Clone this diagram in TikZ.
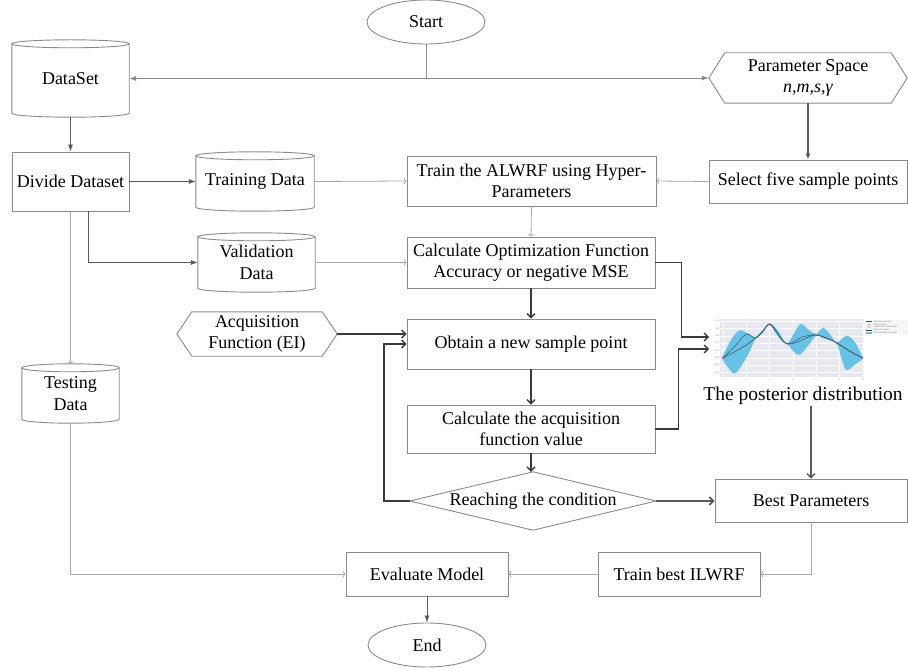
\documentclass[tikz,border=0pt]{standalone}
\usepackage{fontspec}
\setmainfont{Liberation Serif}
\usetikzlibrary{shapes.geometric,arrows.meta,calc}

\definecolor{boxgray}{HTML}{8A8A8A}
\definecolor{lightline}{HTML}{A8A8A8}
\definecolor{midline}{HTML}{5A5A5A}
\definecolor{darkline}{HTML}{3A3A3A}
\definecolor{plotbg}{HTML}{E8E8F1}
\definecolor{bandblue}{RGB}{104,194,230}
\definecolor{curvenavy}{HTML}{2E4F6E}
\definecolor{obsred}{HTML}{D9373B}

\newcommand\mainsize{\fontsize{18}{21.5}\selectfont}
\newcommand\tinysize{\fontsize{2.4}{2.8}\selectfont}

% cylinder outline drawn round a rectangle node
\newcommand\dbdrum[1]{%
  \draw[boxline] let \p1=(#1.north west), \p2=(#1.south east), \n1={(\x2-\x1)/2} in
    ({(\x1+\x2)/2},{\y1-4pt}) ellipse [x radius=\n1, y radius=4pt]
    (\x1,{\y1-4pt}) -- (\x1,{\y2+4pt})
    arc [start angle=180, end angle=360, x radius=\n1, y radius=4pt]
    -- (\x2,{\y1-4pt});}
% hexagon outline drawn round a rectangle node
\newcommand\hexoutline[2]{%
  \draw[boxline] (#1.west) -- ($(#1.north west)+(#2,0)$) -- ($(#1.north east)+(-#2,0)$)
    -- (#1.east) -- ($(#1.south east)+(-#2,0)$) -- ($(#1.south west)+(#2,0)$) -- cycle;}
% diamond outline drawn round a rectangle node
\newcommand\diamondoutline[1]{%
  \draw[boxline] (#1.west) -- (#1.north) -- (#1.east) -- (#1.south) -- cycle;}

\begin{document}
\begin{tikzpicture}[x=1pt,y=-1pt,
  boxline/.style={draw=boxgray, line width=0.9pt},
  box/.style={rectangle, draw=boxgray, line width=0.9pt, inner sep=0pt, align=center, font=\mainsize},
  bare/.style={rectangle, draw=none, inner sep=0pt, align=center, font=\mainsize},
  oval/.style={ellipse, draw=boxgray, line width=0.9pt, inner sep=0pt, minimum width=118, minimum height=44, font=\mainsize},
  thinarrow/.style={draw=lightline, line width=0.8pt, -{To[length=2.5pt,width=6pt]}},
  solidarrow/.style={draw=midline, line width=0.8pt, -{Latex[length=7pt,width=5pt]}},
  heavyarrow/.style={draw=midline, line width=1.5pt, -{Latex[length=6pt,width=5pt]}},
  darkarrow/.style={draw=darkline, line width=1.4pt, -{Straight Barb[length=4pt,width=8pt]}},
  ticklab/.style={font=\tinysize, text=black!55, inner sep=0.3pt},
]
\useasboundingbox (0,0) rectangle (908,671);

% ---------- nodes ----------
\node[oval] (start) at (426,22) {Start};
\node[bare, minimum width=117, minimum height=77] (dataset) at (70.5,78.5) {DataSet};
\node[bare, minimum width=198, minimum height=50] (param) at (808,78) {Parameter Space\\\textit{n,m,s,γ}};

\node[box, minimum width=117, minimum height=59] (divide) at (70.5,181.5) {Divide Dataset};
\node[bare, minimum width=118, minimum height=59] (training) at (255,181.5) {Training Data};
\node[box, minimum width=249, minimum height=50] (train) at (531.5,181) {Train the ALWRF using Hyper-\\Parameters};
\node[box, minimum width=198, minimum height=43] (select) at (808,181.5) {Select five sample points};

\node[bare, minimum width=117, minimum height=59] (validation) at (256.5,262.5) {Validation\\Data};
\node[box, minimum width=248, minimum height=51] (calcopt) at (531,262.5) {Calculate Optimization Function\\Accuracy or negative MSE};

\node[bare, minimum width=160, minimum height=44] (acq) at (257,334) {Acquisition\\Function (EI)};
\node[box, minimum width=248, minimum height=50] (obtain) at (531,344) {Obtain a new sample point};

\node[bare, minimum width=97, minimum height=59] (testing) at (70.5,393.5) {Testing\\Data};
\node[box, minimum width=248, minimum height=48] (calcacq) at (531,429) {Calculate the acquisition\\function value};

\node[bare, minimum width=246, minimum height=58] (cond) at (533,501) {Reaching the condition};
\node[box, minimum width=192, minimum height=43] (best) at (811,500.5) {Best Parameters};

\node[box, minimum width=162, minimum height=44] (evaluate) at (427,574) {Evaluate Model};
\node[box, minimum width=162, minimum height=44] (trainbest) at (679,574) {Train best ILWRF};
\node[oval] (end) at (427,645) {End};

% outlines of the cylinders, hexagons and the decision
\dbdrum{dataset}
\dbdrum{training}
\dbdrum{validation}
\dbdrum{testing}
\hexoutline{param}{16}
\hexoutline{acq}{15}
\diamondoutline{cond}

% ---------- posterior distribution plot ----------
\begin{scope}[shift={(746,365)}, x=11.67pt, y=29.2pt]
  \fill[plotbg] (-2.2,-0.42) rectangle (10,1.57);
  \foreach \v in {-0.25,0,0.25,0.5,0.75,1,1.25,1.5}
    \draw[white, line width=0.3pt] (-2.2,\v) -- (10,\v);
  \foreach \u in {-2,0,2,4,6,8,10}
    \draw[white, line width=0.3pt] (\u,-0.42) -- (\u,1.57);
  \fill[bandblue]
    plot[smooth, tension=0.6] coordinates {(-2,0.3) (-1.3,0.85) (-0.6,1.18) (0.1,1.1) (0.8,0.96) (1.4,1.2) (2,1.43) (2.7,1.2) (3.2,0.88) (3.6,0.75) (4.2,1.15) (4.7,1.4) (5.4,1.2) (6,1.06) (6.6,1.27) (7.2,1.05) (7.8,0.78) (8.6,1.0) (9.3,0.8) (10,0.27)}
    -- plot[smooth, tension=0.6] coordinates {(10,0.21) (9.3,0.0) (8.6,-0.17) (8.2,0.2) (7.8,0.72) (7.2,0.85) (6.6,0.92) (6,1.0) (5.3,0.65) (4.6,0.35) (4.1,0.45) (3.6,0.69) (3.2,0.78) (2.6,1.05) (2,1.37) (1.4,1.1) (0.8,0.88) (0.1,0.3) (-0.9,-0.28) (-1.5,-0.1) (-2,0.18)}
    -- cycle;
  \draw[curvenavy, line width=0.45pt] plot[smooth, tension=0.6] coordinates {(-2,0.24) (-1,0.62) (0,1.05) (0.8,0.92) (1.4,1.12) (2,1.4) (2.6,1.15) (3.1,0.85) (3.6,0.72) (4.3,0.85) (5,0.98) (6,1.03) (6.9,0.92) (7.8,0.75) (9,0.45) (10,0.24)};
  \draw[black!75, line width=0.45pt] plot[smooth, tension=0.6] coordinates {(-2,0.24) (-1,0.45) (0,0.68) (0.8,0.92) (1.4,1.12) (2,1.4) (2.6,1.15) (3.1,0.85) (3.6,0.72) (4.5,0.8) (5.3,0.95) (6,1.03) (6.9,0.92) (7.8,0.75) (9,0.45) (10,0.24)};
  \foreach \p in {(-2,0.24),(0.8,0.92),(2,1.4),(3.6,0.72),(6,1.03),(7.8,0.75),(10,0.24)}
    \fill[obsred] \p circle [radius=0.7pt];
  \foreach \v/\t in {1.5/1.50,1.25/1.25,1/1.00,0.75/0.75,0.5/0.50,0.25/0.25,0/0.00,-0.25/-0.25}
    \node[ticklab, anchor=east] at (-2.25,\v) {\t};
  \foreach \u in {-2,0,2,4,6,8,10}
    \node[ticklab, anchor=north] at (\u,-0.45) {\u};
\end{scope}
% legend of the plot
\fill[white!60!plotbg] (864.5,319.5) rectangle (907.5,334.5);
\draw[curvenavy, line width=0.4pt] (866,321.5) -- (872,321.5);
\fill[obsred] (869,324.3) circle [radius=0.6pt];
\fill[blue!70!black] (869,327.1) circle [radius=0.6pt];
\draw[black!75, line width=0.4pt] (866,329.9) -- (872,329.9);
\fill[bandblue] (866,331.7) rectangle (872,333.7);
\node[ticklab, anchor=west] at (873,321.5) {Objective function};
\node[ticklab, anchor=west] at (873,324.3) {Observations};
\node[ticklab, anchor=west] at (873,327.1) {Current best observation};
\node[ticklab, anchor=west] at (873,329.9) {Predictive mean};
\node[ticklab, anchor=west] at (873,332.7) {95\% confidence interval};

\node[font=\fontsize{19.5}{22}\selectfont, inner sep=1pt] (posttext) at (803,396) {The posterior distribution};
\coordinate (pin1) at (709,337);
\coordinate (pin2) at (709,349);

% ---------- connectors ----------
\draw[solidarrow, draw=boxgray] (start.south) |- (dataset.east);
\draw[solidarrow, draw=boxgray] (start.south) |- (param.west);
\draw[solidarrow] (dataset.south) -- (divide.north);
\draw[solidarrow] (divide.east) -- (training.west);
\draw[thinarrow] (training.east) -- (train.west);
\draw[heavyarrow] (param.south) -- (select.north);
\draw[thinarrow] (select.west) -- (train.east);
\draw[thinarrow] (train.south) -- (calcopt.north);
\draw[solidarrow] ($(divide.south)+(17.5,0)$) |- (validation.west);
\draw[thinarrow] (validation.east) -- (calcopt.west);
\draw[thinarrow] (divide.south) -- (testing.north);

\draw[darkarrow] (calcopt.south) -- (obtain.north);
\draw[darkarrow] (obtain.south) -- (calcacq.north);
\draw[darkarrow] (calcacq.south) -- (calcacq.south |- cond.north);
\draw[darkarrow] (acq.east) -- (acq.east -| obtain.west);
\draw[darkarrow] (cond.west) -- ++(-26,0) |- (obtain.west);
\draw[darkarrow] (calcopt.east) -- ++(26,0) |- (pin1);
\draw[darkarrow] (calcacq.east) -- ++(23,0) |- (pin2);
\draw[darkarrow, draw=midline, line width=1.7pt] (cond.east) -- (cond.east -| best.west);
\draw[darkarrow, draw=midline] (best.north |- posttext.south) -- (best.north);

\draw[thinarrow] (best.south) |- (trainbest.east);
\draw[thinarrow] (trainbest.west) -- (evaluate.east);
\draw[thinarrow] (testing.south) |- (evaluate.west);
\draw[solidarrow] (evaluate.south) -- (end.north);
\end{tikzpicture}
\end{document}
